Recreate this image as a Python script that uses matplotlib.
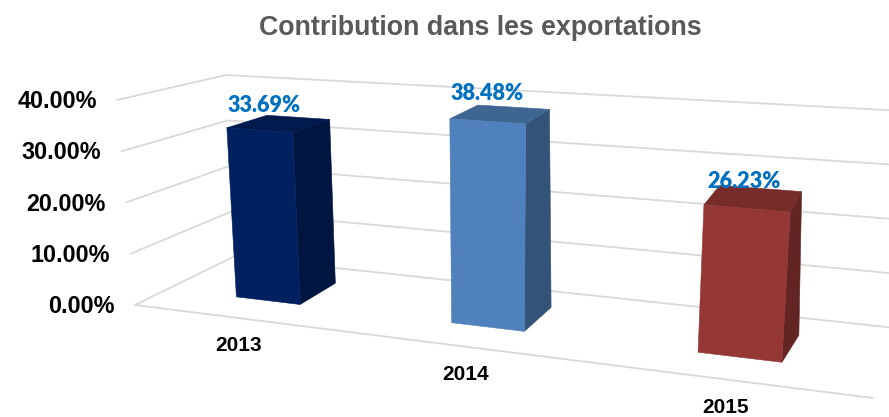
import numpy as np
import matplotlib as mpl
mpl.use('Agg')
import matplotlib.pyplot as plt

# data
years = ['2013', '2014', '2015']
shares = [33.69, 38.48, 26.23]
share_labels = ['33.69%', '38.48%', '26.23%']
grid_values = [0, 10, 20, 30, 40]
grid_labels = ['0.00%', '10.00%', '20.00%', '30.00%', '40.00%']

# styles
front_colors = ['#002060', '#4f81bd', '#953735']
side_colors = ['#00153f', '#335478', '#632523']
top_colors = ['#001a4d', '#3f6690', '#772c2a']
label_dx = [4, 0, -3]
label_dy = [-10, -12, -4]

# box corners in image pixels, index is (across, depth)
VMAX = 40.0
floor_box = np.array([[[135, 305], [233, 257]], [[873, 398], [905, 329]]], dtype=float)
top_box = np.array([[[117, 100], [226, 75]], [[899, 155], [905, 111]]], dtype=float)

# perspective along the category axis, slots run from 0 to 3
PA, PB = 0.2698, -0.062
BAR_W = 0.31
D_FRONT, D_BACK = 0.34, 0.75


def slot_to_u(t):
    return PA * t / (1 + PB * t)


def bilinear(box, u, d):
    return ((1 - u) * (1 - d) * box[0, 0] + (1 - u) * d * box[0, 1]
            + u * (1 - d) * box[1, 0] + u * d * box[1, 1])


def project(u, d, v):
    f = bilinear(floor_box, u, d)
    t = bilinear(top_box, u, d)
    return f + (v / VMAX) * (t - f)


fig = plt.figure(figsize=(8.89, 4.17), dpi=100)
ax = fig.add_axes([0, 0, 1, 1])
ax.set_xlim(0, 889)
ax.set_ylim(417, 0)
ax.axis('off')

plt.rcParams['font.family'] = ['Liberation Sans']

# gridlines on side wall and back wall
grid_kw = dict(color='#d9d9d9', lw=1.3, solid_capstyle='round', zorder=1)
for v, lab in zip(grid_values, grid_labels):
    pts = np.array([project(0, 0, v), project(0, 1, v), project(1, 1, v)])
    ax.plot(pts[:, 0], pts[:, 1], **grid_kw)
    ax.text(pts[0, 0] - 20, pts[0, 1] + 1.5, lab, ha='right', va='center',
            fontsize=16.8, fontweight='bold', color='black')
front_line = np.array([project(0, 0, 0), project(1, 0, 0)])
ax.plot(front_line[:, 0], front_line[:, 1], **grid_kw)

# bars
for i, val in enumerate(shares):
    c = i + 0.5
    u0 = slot_to_u(c - BAR_W / 2)
    u1 = slot_to_u(c + BAR_W / 2)
    fbl = project(u0, D_FRONT, 0)
    fbr = project(u1, D_FRONT, 0)
    bbr = project(u1, D_BACK, 0)
    ftl = project(u0, D_FRONT, val)
    ftr = project(u1, D_FRONT, val)
    btr = project(u1, D_BACK, val)
    btl = project(u0, D_BACK, val)

    for poly, col in [([fbr, bbr, btr, ftr], side_colors[i]),
                      ([ftl, ftr, btr, btl], top_colors[i]),
                      ([fbl, fbr, ftr, ftl], front_colors[i])]:
        poly = np.array(poly)
        ax.fill(poly[:, 0], poly[:, 1], color=col, lw=0.4, zorder=3)

    # value above the bar
    lx = project(slot_to_u(c), D_FRONT, val)[0] + label_dx[i]
    ly = btl[1] + label_dy[i]
    ax.text(lx, ly, share_labels[i], ha='center', va='center', fontsize=15.6,
            fontweight='heavy', color='#0070c0', family='Lato', zorder=5)

    # year under the floor
    p = project(slot_to_u(c), 0, 0)
    ax.text(p[0] + 1, p[1] + 28, years[i], ha='center', va='center',
            fontsize=15, fontweight='bold', color='black')

ax.text(480, 27.5, 'Contribution dans les exportations', ha='center', va='center',
        fontsize=19.3, fontweight='bold', color='#595959')

plt.savefig('out.png', dpi=100)
plt.close()
